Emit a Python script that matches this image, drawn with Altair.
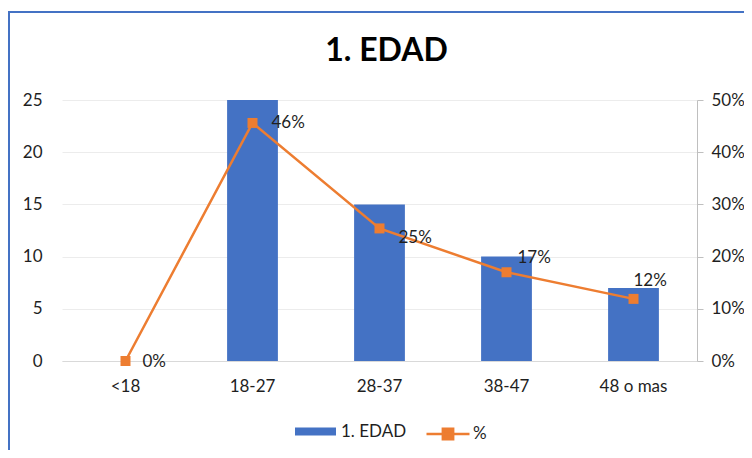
import altair as alt
import pandas as pd

categories = ["<18", "18-27", "28-37", "38-47", "48 o mas"]
counts = [0, 25, 15, 10, 7]
shares = [0.0, 0.456, 0.254, 0.17, 0.119]
left_ticks = [0, 5, 10, 15, 20, 25]
right_ticks = [0, 0.1, 0.2, 0.3, 0.4, 0.5]
bar_name = "1. EDAD"
line_name = "%"

df = pd.DataFrame({"cat": categories, "n": counts, "pct": shares})

BLUE = "#4472C4"
ORANGE = "#ED7D31"
FONT = "Lato"
TXT = "#1f1f1f"
FS = 17

base = alt.Chart(df)

x = alt.X(
    "cat:N", sort=categories, title=None,
    scale=alt.Scale(paddingInner=0.6, paddingOuter=0.3),
    axis=alt.Axis(labelAngle=0, ticks=False, tickSize=0, domainColor="#d9d9d9",
                  labelPadding=17, labelFontSize=FS, labelColor=TXT, labelFont=FONT),
)

bars = base.transform_calculate(s1="'" + bar_name + "'").mark_bar(opacity=1).encode(
    x=x,
    y=alt.Y("n:Q", title=None, scale=alt.Scale(domain=[0, 25]),
            axis=alt.Axis(values=left_ticks, domain=False, ticks=False, tickSize=0,
                          gridColor="#ececec", labelPadding=20, labelFontSize=FS,
                          labelColor=TXT, labelFont=FONT)),
    color=alt.Color("s1:N", scale=alt.Scale(domain=[bar_name], range=[BLUE]),
                    legend=alt.Legend(title=None, orient="none", direction="horizontal",
                                      legendX=233, legendY=311, symbolSize=1681,
                                      symbolType="M-1,-0.2H1V0.2H-1Z", symbolStrokeWidth=0,
                                      symbolOpacity=1,
                                      labelFontSize=FS, labelFont=FONT, labelColor=TXT,
                                      labelOffset=5)),
)

y_right = alt.Y("pct:Q", title=None, scale=alt.Scale(domain=[0, 0.5]),
                axis=alt.Axis(orient="right", values=right_ticks, format=".0%", grid=False,
                              domainColor="#bfbfbf", tickColor="#bfbfbf", tickSize=6,
                              labelPadding=8, labelFontSize=FS, labelColor=TXT, labelFont=FONT))

line = base.transform_calculate(s2="'" + line_name + "'").mark_line(
    strokeWidth=2.5,
    point=alt.OverlayMarkDef(shape="square", size=100, filled=True, opacity=1,
                             fill=ORANGE, stroke=ORANGE, strokeWidth=0),
).encode(
    x=x, y=y_right,
    stroke=alt.Stroke("s2:N", scale=alt.Scale(domain=[line_name], range=[ORANGE]),
                      legend=alt.Legend(title=None, orient="none", direction="horizontal",
                                        legendX=363, legendY=311, symbolSize=1849,
                                        symbolType="M-1,0H1M-0.24,-0.24H0.24V0.24H-0.24Z",
                                        symbolStrokeWidth=2.5, symbolFillColor=ORANGE,
                                        symbolOpacity=1,
                                        labelFontSize=FS, labelFont=FONT, labelColor=TXT,
                                        labelOffset=2)),
)

label_offsets = {"<18": (17, 1), "18-27": (19, 0), "28-37": (19, 10), "38-47": (11, -14), "48 o mas": (0, -18)}
texts = []
for c in categories:
    dx, dy = label_offsets[c]
    texts.append(
        base.transform_filter(alt.datum.cat == c).mark_text(
            align="left", baseline="middle", dx=dx, dy=dy, fontSize=FS, font=FONT, color=TXT
        ).encode(x=x, y=y_right, text=alt.Text("pct:Q", format=".0%"))
    )

right = alt.layer(line, *texts)

border = alt.Chart(pd.DataFrame({"b": [0]})).mark_rect(
    fill="transparent", stroke=BLUE, strokeWidth=2
).encode(x=alt.value(-53), x2=alt.value(800), y=alt.value(-88), y2=alt.value(600))

chart = alt.layer(bars, right, border).resolve_scale(y="independent").properties(
    width=635, height=261,
    autosize=alt.AutoSizeParams(type="none"),
    padding={"left": 54, "top": 92, "right": 47, "bottom": 89},
    title=alt.TitleParams("1. EDAD", fontSize=32, fontWeight="bold", font=FONT, color="#000000",
                          anchor="middle", frame="group", baseline="alphabetic", offset=-82, dx=7),
).configure_view(stroke=None)

chart.save("out.html", embed_options={"renderer": "svg", "actions": False})
